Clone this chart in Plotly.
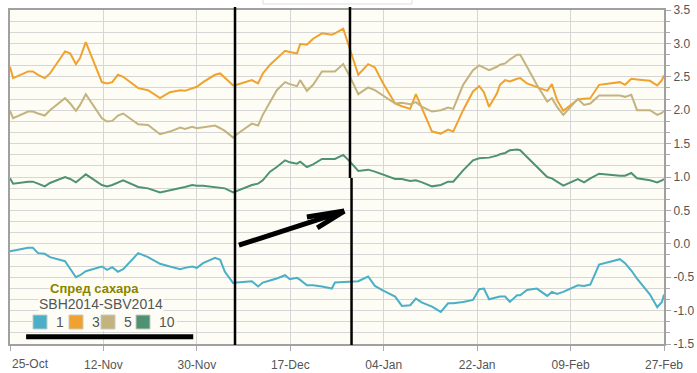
import plotly.graph_objects as go

# x positions: days since 25-Oct-2013
days = [0.0, 0.6, 3.5, 4.4, 5.4, 6.7, 7.7, 10.6, 11.6, 12.7, 13.5, 14.6, 17.7, 18.7, 19.7, 20.8,
        21.8, 24.7, 26.6, 28.9, 30.8, 32.8, 33.7, 35.1, 36.0, 37.2, 39.5, 40.5, 41.4, 43.0, 43.7,
        46.6, 47.8, 48.7, 50.1, 51.4, 53.0, 53.9, 55.3, 55.9, 57.2, 58.4, 60.1, 62.0, 62.6, 64.2,
        65.5, 67.1, 69.0, 70.3, 71.9, 74.2, 75.5, 77.1, 78.2, 79.4, 81.3, 83.0, 84.4, 85.4, 87.3,
        89.2, 90.4, 91.3, 92.3, 93.8, 94.4, 95.4, 96.3, 97.7, 98.3, 99.6, 101.5, 103.5, 104.4,
        105.4, 106.6, 109.4, 110.6, 111.8, 113.5, 117.5, 118.5, 119.7, 120.8, 123.3, 124.7, 125.6,
        126.0]

s3 = [2.65, 2.48, 2.58, 2.58, 2.53, 2.48, 2.55, 2.88, 2.85, 2.69, 2.78, 3.02, 2.42, 2.40, 2.42, 2.53,
      2.50, 2.33, 2.30, 2.18, 2.27, 2.30, 2.29, 2.33, 2.35, 2.42, 2.53, 2.55, 2.48, 2.37, 2.38,
      2.45, 2.40, 2.55, 2.68, 2.78, 2.89, 2.87, 2.85, 2.99, 2.98, 3.07, 3.15, 3.13, 3.15, 3.22,
      2.90, 2.53, 2.69, 2.64, 2.40, 2.10, 2.06, 2.02, 2.24, 2.03, 1.68, 1.65, 1.71, 1.68, 2.00,
      2.28, 2.36, 2.27, 2.05, 2.25, 2.38, 2.45, 2.43, 2.47, 2.48, 2.40, 2.35, 2.29, 2.39,
      2.15, 1.99, 2.16, 2.17, 2.18, 2.38, 2.42, 2.38, 2.47, 2.46, 2.44, 2.37, 2.45,
      2.52]

s5 = [1.99, 1.88, 1.98, 1.98, 1.95, 1.92, 2.00, 2.18, 2.10, 1.99, 2.08, 2.24, 1.88, 1.83, 1.84, 1.92,
      1.95, 1.79, 1.78, 1.64, 1.68, 1.74, 1.72, 1.75, 1.73, 1.74, 1.77, 1.73, 1.69, 1.59, 1.64,
      1.80, 1.77, 1.93, 2.13, 2.30, 2.42, 2.39, 2.36, 2.45, 2.29, 2.38, 2.58, 2.58, 2.58, 2.69,
      2.50, 2.24, 2.34, 2.30, 2.22, 2.10, 2.11, 2.09, 2.12, 2.05, 1.98, 2.00, 2.04, 2.02, 2.38,
      2.60, 2.67, 2.64, 2.60, 2.65, 2.68, 2.70, 2.76, 2.83, 2.83, 2.65, 2.38, 2.13, 2.18,
      2.05, 1.93, 2.17, 2.08, 2.10, 2.22, 2.22, 2.20, 2.23, 2.00, 2.00, 1.93, 1.96,
      1.99]

s10 = [0.98, 0.90, 0.93, 0.93, 0.90, 0.86, 0.91, 1.00, 0.97, 0.92, 0.97, 1.04, 0.88, 0.86, 0.88, 0.92,
       0.95, 0.85, 0.83, 0.77, 0.80, 0.83, 0.85, 0.88, 0.87, 0.87, 0.85, 0.84, 0.83, 0.77, 0.79,
       0.88, 0.90, 0.95, 1.08, 1.15, 1.25, 1.22, 1.20, 1.23, 1.15, 1.19, 1.27, 1.27, 1.27, 1.33,
       1.23, 1.09, 1.11, 1.08, 1.03, 0.97, 0.97, 0.94, 0.95, 0.92, 0.86, 0.88, 0.93, 0.93, 1.10,
       1.25, 1.28, 1.28, 1.29, 1.32, 1.34, 1.36, 1.40, 1.41, 1.40, 1.30, 1.15, 1.00, 0.98,
       0.93, 0.87, 0.97, 0.92, 0.98, 1.05, 1.02, 1.02, 1.06, 0.98, 0.95, 0.92, 0.95,
       0.97]

s1 = [-0.11, -0.10, -0.06, -0.06, -0.14, -0.15, -0.20, -0.26, -0.37, -0.50, -0.47, -0.41, -0.34, -0.39,
      -0.35, -0.42, -0.38, -0.14, -0.20, -0.30, -0.34, -0.38, -0.36, -0.34, -0.36, -0.29, -0.21, -0.24,
      -0.42, -0.59, -0.58, -0.56, -0.64, -0.58, -0.55, -0.52, -0.47, -0.53, -0.51, -0.54, -0.62,
      -0.62, -0.64, -0.67, -0.58, -0.57, -0.57, -0.56, -0.49, -0.63, -0.70, -0.79, -0.93, -0.92,
      -0.82, -0.88, -0.94, -1.02, -0.89, -0.89, -0.87, -0.84, -0.68, -0.67, -0.83, -0.80, -0.79,
      -0.79, -0.87, -0.77, -0.77, -0.69, -0.67, -0.78, -0.72, -0.75, -0.72, -0.62, -0.63, -0.61,
      -0.31, -0.23, -0.29, -0.40, -0.52, -0.76, -0.95, -0.87, -0.76]

series_names = ["1", "3", "5", "10"]
series_vals = [s1, s3, s5, s10]
colors = ["#4aafc7", "#f0a22e", "#c4b37f", "#4f9272"]

x_tick_days = [0, 18, 36, 54, 72, 90, 108, 126]
x_tick_labels = ["25-Oct", "12-Nov", "30-Nov", "17-Dec", "04-Jan", "22-Jan", "09-Feb", "27-Feb"]
y_tick_vals = [-1.5, -1.0, -0.5, 0.0, 0.5, 1.0, 1.5, 2.0, 2.5, 3.0, 3.5]
y_tick_labels = ["-1.5", "-1.0", "-0.5", "0.0", "0.5", "1.0", "1.5", "2.0", "2.5", "3.0", "3.5"]

legend_title = "Спред сахара"
legend_sub = "SBH2014-SBV2014"

for v in series_vals:
    assert len(v) == len(days), (len(v), len(days))

FONT = "Liberation Sans"
BG = "#fdfdf5"
fig = go.Figure()
for name, vals, c in zip(series_names, series_vals, colors):
    fig.add_trace(go.Scatter(x=days, y=vals, mode="lines", name=name, showlegend=False,
                             line=dict(color=c, width=2), hoverinfo="x+y"))

PW, PH = 697, 373
ML, MR, MT, MB = 10, 33, 10, 29
plot_w = PW - ML - MR
plot_h = PH - MT - MB

grid = "#d6d6d6"
fig.update_layout(
    template="none",
    width=PW, height=PH, autosize=False,
    margin=dict(l=ML, r=MR, t=MT, b=MB, pad=0),
    paper_bgcolor="white", plot_bgcolor=BG,
    font=dict(family=FONT, size=12, color="#555"),
    showlegend=False,
    xaxis=dict(range=[0, 126], tickmode="array", tickvals=x_tick_days, automargin=False,
               ticktext=[""] + x_tick_labels[1:], showgrid=True, gridcolor=grid, gridwidth=1,
               ticks="outside", ticklen=5, tickcolor="#aaa", showline=True, mirror=True,
               linecolor="#a0a0a0", linewidth=2, zeroline=False, ticklabelstandoff=4,
               tickfont=dict(size=12, color="#555")),
    yaxis=dict(range=[-1.5, 3.5], side="right", tickmode="array", tickvals=y_tick_vals,
               ticktext=y_tick_labels, showgrid=True, gridcolor=grid, gridwidth=1, automargin=False,
               ticks="outside", ticklen=5, tickcolor="#aaa", showline=True, mirror=True,
               linecolor="#a0a0a0", linewidth=2, zeroline=False,
               tickfont=dict(size=12, color="#555"),
               minor=dict(dtick=0.5 / 3, tick0=-1.5, showgrid=True, gridcolor=grid,
                          ticks="outside", ticklen=4, tickcolor="#aaa")),
)

def px_x(px):  # pixels from left of plot area -> paper
    return px / plot_w

def px_y(px):  # pixels above plot bottom -> paper
    return px / plot_h

# first tick label drawn left-aligned so it is not clipped
fig.add_annotation(x=0, y=px_y(-20), xref="x", yref="paper", text=x_tick_labels[0],
                   showarrow=False, xanchor="left", yanchor="middle",
                   font=dict(size=12, color="#555"))

# legend block: subtitle, title, swatches
fig.add_annotation(x=px_x(91), y=px_y(40), xref="paper", yref="paper", text=legend_sub,
                   showarrow=False, xanchor="center", yanchor="middle", bgcolor=BG, borderpad=0,
                   font=dict(size=14, color="#555"))
fig.add_annotation(x=px_x(85), y=px_y(56), xref="paper", yref="paper",
                   text="<b>" + legend_title + "</b>", showarrow=False, xanchor="center",
                   yanchor="middle", bgcolor=BG, borderpad=0, font=dict(size=13, color="#8a8400"))
fig.add_shape(type="rect", xref="paper", yref="paper", x0=px_x(22), x1=px_x(167),
              y0=px_y(13), y1=px_y(31), line=dict(width=0), fillcolor=BG)
legend_left = [23, 59, 91, 126]
for left, name, c in zip(legend_left, series_names, colors):
    fig.add_shape(type="rect", xref="paper", yref="paper", x0=px_x(left), x1=px_x(left + 14),
                  y0=px_y(15), y1=px_y(29), line=dict(color="#c8c8c8", width=1), fillcolor=c)
    fig.add_annotation(x=px_x(left + 21), y=px_y(22), xref="paper", yref="paper", text=name,
                       showarrow=False, xanchor="left", yanchor="middle",
                       font=dict(size=14, color="#555"))

# hand-drawn marks
blk = dict(color="black", width=2.5)
fig.add_shape(type="line", xref="x", yref="paper", x0=43.35, x1=43.35, y0=px_y(-1), y1=px_y(plot_h + 3), line=blk)
fig.add_shape(type="line", xref="x", yref="paper", x0=65.5, x1=65.5, y0=px_y(166), y1=px_y(plot_h + 3), line=blk)
fig.add_shape(type="line", xref="x", yref="paper", x0=65.8, x1=65.8, y0=px_y(-1), y1=px_y(166), line=blk)
arrow = dict(color="black", width=5)
fig.add_shape(type="line", xref="x", yref="y", x0=44.1, y0=-0.02, x1=64.4, y1=0.49, line=arrow)
fig.add_shape(type="line", xref="x", yref="y", x0=57.2, y0=0.40, x1=64.4, y1=0.49, line=arrow)
fig.add_shape(type="line", xref="x", yref="y", x0=59.2, y0=0.24, x1=64.4, y1=0.49, line=arrow)
fig.add_shape(type="line", xref="x", yref="y", x0=3.1, y0=-1.39, x1=35.3, y1=-1.39, line=arrow)
# small empty header box just above the plot
fig.add_shape(type="rect", xref="paper", yref="paper", x0=px_x(253), x1=px_x(402),
              y0=px_y(plot_h + 6), y1=px_y(plot_h + 12), line=dict(color="#dddddd", width=1),
              fillcolor="white")

# remove the default 8px page margin so the figure fills the window exactly
fig.write_html("out.html", config={"displayModeBar": False, "responsive": False},
               post_script="document.body.style.margin='0px';document.body.style.overflow='hidden';")
